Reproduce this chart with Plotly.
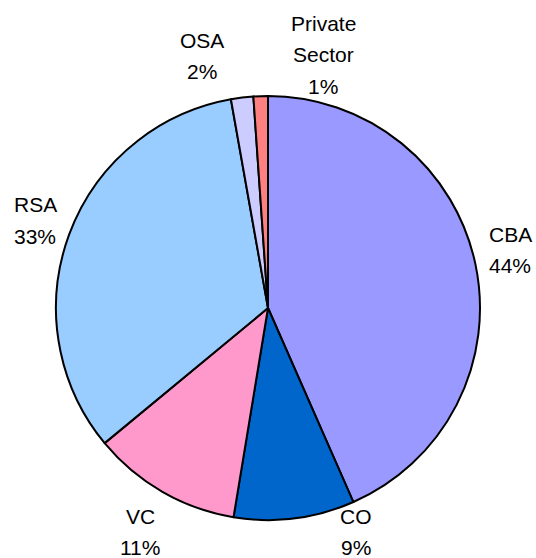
import plotly.graph_objects as go

W, H = 536, 558

labels = ["CBA", "CO", "VC", "RSA", "OSA", "Private Sector"]
values = [43.4, 9.2, 11.4, 33.2, 1.7, 1.1]
pct_text = ["44%", "9%", "11%", "33%", "2%", "1%"]
colors = ["#9999FF", "#0066CC", "#FF99CC", "#99CCFF", "#CCCCFF", "#FF8080"]

# label line centres in pixels (x, first line y), one list per slice
label_pos = {
    "CBA": (510, 235),
    "CO": (356, 516),
    "VC": (140, 516),
    "RSA": (35, 205),
    "OSA": (202, 40),
    "Private Sector": (323, 24),
}
line_gap = 31

cx, cy, r = 268, 308, 212

fig = go.Figure(go.Pie(
    labels=labels,
    values=values,
    sort=False,
    direction="clockwise",
    rotation=0,
    marker=dict(colors=colors, line=dict(color="black", width=2)),
    textinfo="none",
    hoverinfo="label+percent",
    showlegend=False,
    domain=dict(x=[(cx - r) / W, (cx + r) / W],
                y=[1 - (cy + r) / H, 1 - (cy - r) / H]),
))

font = dict(family="Liberation Sans, Arial, sans-serif", size=21, color="black")
for lab, pct in zip(labels, pct_text):
    x0, y0 = label_pos[lab]
    lines = lab.split(" ") + [pct]
    for i, t in enumerate(lines):
        fig.add_annotation(x=x0 / W, y=1 - (y0 + i * line_gap) / H,
                           xref="paper", yref="paper", text=t, showarrow=False,
                           xanchor="center", yanchor="middle", font=font)

fig.update_layout(width=W, height=H, margin=dict(l=0, r=0, t=0, b=0),
                  paper_bgcolor="white", plot_bgcolor="white")
fig.write_html("out.html", config={"displayModeBar": False},
               post_script="document.body.style.margin='0';")
